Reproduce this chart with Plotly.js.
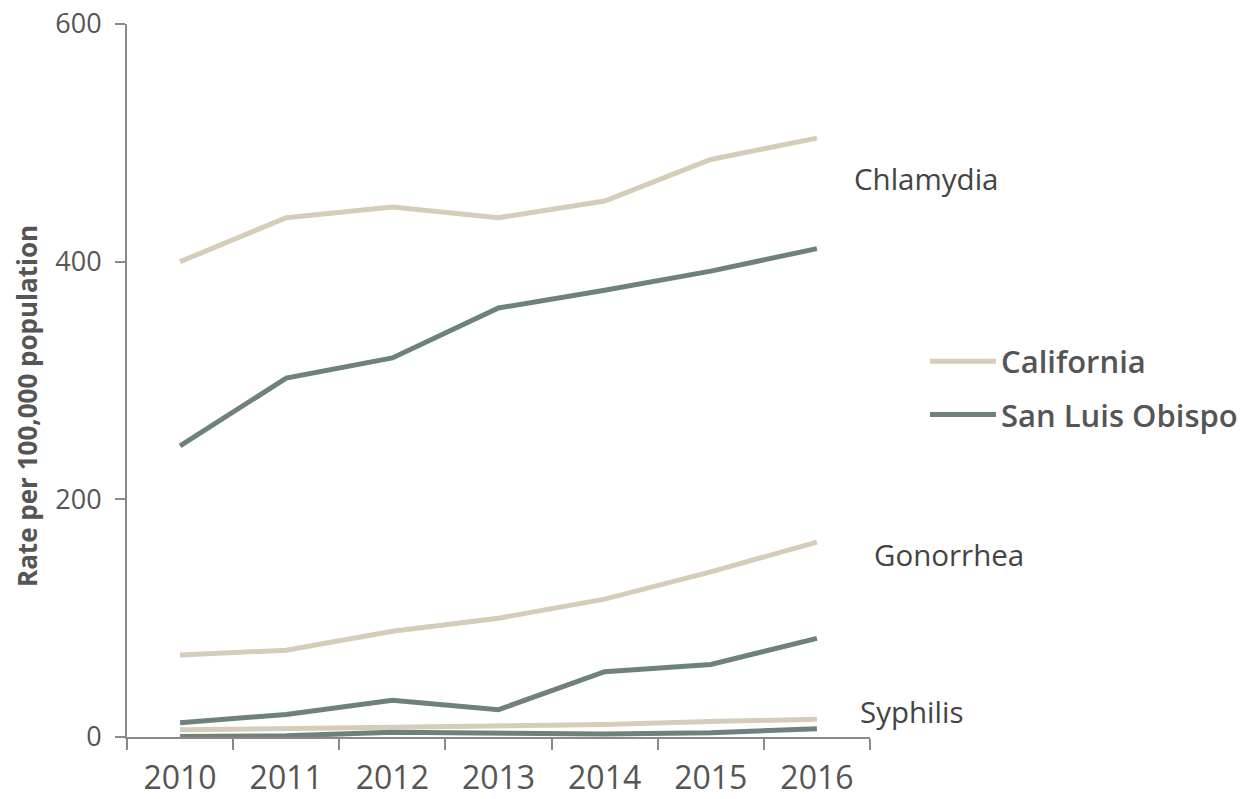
<!DOCTYPE html>
<html>
<head>
<meta charset="utf-8">
<script src="https://cdn.plot.ly/plotly-3.0.1.min.js"></script>
<style>html,body{margin:0;padding:0;background:#fff;}#chart{width:1245px;height:799px;}</style>
</head>
<body>
<div id="chart"></div>
<script>
const years = ["2010","2011","2012","2013","2014","2015","2016"];
const caChlamydia = [400, 437, 446, 437, 451, 486, 504];
const sloChlamydia = [245, 302, 319, 361, 376, 392, 411];
const caGonorrhea = [69, 73, 89, 100, 116, 139, 164];
const sloGonorrhea = [12, 19, 31, 23, 55, 61, 83];
const caSyphilis = [6, 7, 8.5, 9.5, 10.5, 13, 15];
const sloSyphilis = [0.5, 1, 4, 3, 2.5, 3.5, 7];
const seriesNames = ["California", "San Luis Obispo"];
const diseaseLabels = ["Chlamydia", "Gonorrhea", "Syphilis"];
const yTicks = [0, 200, 400, 600];
const yTitle = "Rate per 100,000 population";

const caColor = "#d5ccb9";
const sloColor = "#6e827b";
const textColor = "#555555";
const font = "'Open Sans', 'Noto Sans', sans-serif";

function tr(y, name, color, show) {
  return {
    x: years, y: y, type: "scatter", mode: "lines", name: name,
    legendgroup: name, showlegend: show,
    line: {color: color, width: 5},
    hoverinfo: "x+y"
  };
}

const data = [
  tr(caChlamydia, seriesNames[0], caColor, true),
  tr(sloChlamydia, seriesNames[1], sloColor, true),
  tr(caGonorrhea, seriesNames[0], caColor, false),
  tr(sloGonorrhea, seriesNames[1], sloColor, false),
  tr(caSyphilis, seriesNames[0], caColor, false),
  tr(sloSyphilis, seriesNames[1], sloColor, false)
];

const W = 1245, H = 799, L = 127, R = 375, T = 24, B = 62;
const pw = W - L - R, ph = H - T - B;
function px(x) { return (x - L) / pw; }
function py(y) { return (H - B - y) / ph; }

const annotations = [
  {text: diseaseLabels[0], x: px(852), y: py(179)},
  {text: diseaseLabels[1], x: px(872), y: py(554)},
  {text: diseaseLabels[2], x: px(858), y: py(711)}
].map(a => Object.assign({
  xref: "paper", yref: "paper", xanchor: "left", yanchor: "middle",
  showarrow: false, font: {family: font, size: 29.5, color: "#444444"}
}, a));

annotations.push({
  text: yTitle, xref: "paper", yref: "paper", x: px(27), y: py(406),
  xanchor: "center", yanchor: "middle", textangle: -90, showarrow: false,
  font: {family: font, size: 26, color: textColor, weight: "bold"}
});

const layout = {
  width: W, height: H,
  margin: {l: L, r: R, t: T, b: B, pad: 0, autoexpand: false},
  paper_bgcolor: "#ffffff", plot_bgcolor: "#ffffff",
  font: {family: font, color: textColor},
  showlegend: true,
  legend: {
    xref: "container", yref: "container",
    x: 925 / W, y: 1 - 388 / H, xanchor: "left", yanchor: "middle",
    font: {family: font, size: 31, color: textColor, weight: 600},
    traceorder: "grouped", tracegroupgap: 10, itemwidth: 66,
    bgcolor: "rgba(0,0,0,0)"
  },
  xaxis: {
    type: "category", range: [-0.5, 6.5],
    showgrid: false, zeroline: false,
    showline: true, linecolor: "#8a8a8a", linewidth: 2,
    ticks: "outside", tickson: "boundaries", ticklen: 11, tickwidth: 2, tickcolor: "#8a8a8a",
    tickfont: {family: font, size: 32, color: textColor},
    ticklabelstandoff: 12, automargin: false,
    fixedrange: true
  },
  yaxis: {
    range: [0, 600], tickvals: yTicks,
    showgrid: false, zeroline: false,
    showline: true, linecolor: "#8a8a8a", linewidth: 2,
    ticks: "outside", ticklen: 10, tickwidth: 2, tickcolor: "#8a8a8a",
    tickfont: {family: font, size: 27, color: textColor},
    ticklabelstandoff: 8, automargin: false,
    fixedrange: true
  },
  annotations: annotations
};

Plotly.newPlot("chart", data, layout, {displayModeBar: false, staticPlot: true});
</script>
</body>
</html>
